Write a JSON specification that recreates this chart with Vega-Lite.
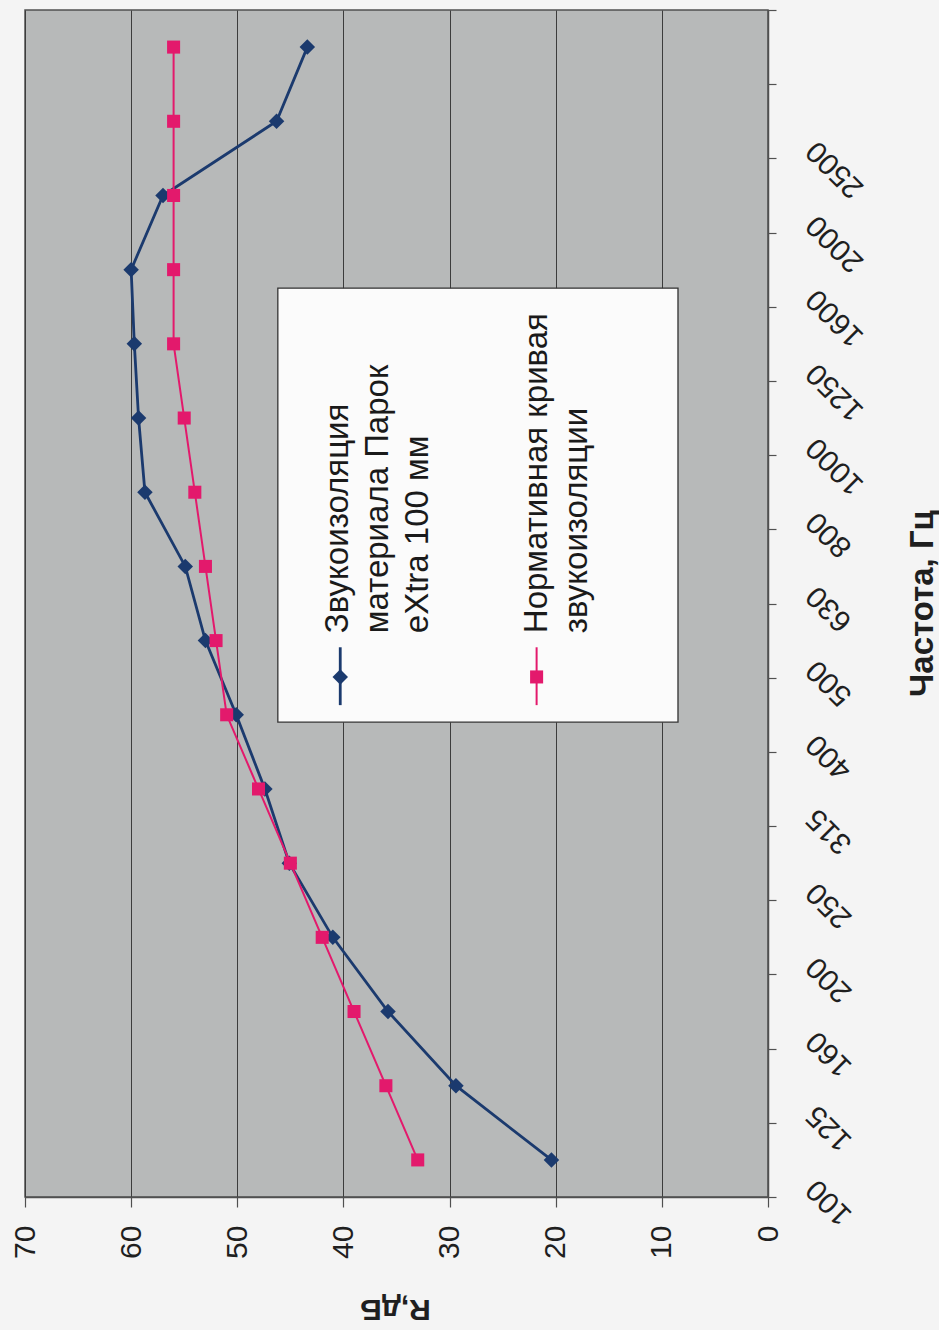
{
  "$schema": "https://vega.github.io/schema/vega-lite/v6.json",
  "width": 743,
  "height": 1187,
  "autosize": {"type": "none"},
  "padding": {"left": 25, "top": 10, "right": 171, "bottom": 133},
  "background": "#f4f4f4",
  "config": {
    "font": "Liberation Sans",
    "view": {"fill": "#b7b9b9", "stroke": "#505050", "strokeWidth": 1.5}
  },
  "datasets": {
    "rw": [
      {"freq": 100, "series": "measured", "R": 20.4},
      {"freq": 125, "series": "measured", "R": 29.4},
      {"freq": 160, "series": "measured", "R": 35.8},
      {"freq": 200, "series": "measured", "R": 41.0},
      {"freq": 250, "series": "measured", "R": 45.1},
      {"freq": 315, "series": "measured", "R": 47.4},
      {"freq": 400, "series": "measured", "R": 50.1},
      {"freq": 500, "series": "measured", "R": 53.0},
      {"freq": 630, "series": "measured", "R": 54.9},
      {"freq": 800, "series": "measured", "R": 58.7},
      {"freq": 1000, "series": "measured", "R": 59.3},
      {"freq": 1250, "series": "measured", "R": 59.7},
      {"freq": 1600, "series": "measured", "R": 60.0},
      {"freq": 2000, "series": "measured", "R": 57.0},
      {"freq": 2500, "series": "measured", "R": 46.3},
      {"freq": 3150, "series": "measured", "R": 43.4},
      {"freq": 100, "series": "norm", "R": 33},
      {"freq": 125, "series": "norm", "R": 36},
      {"freq": 160, "series": "norm", "R": 39},
      {"freq": 200, "series": "norm", "R": 42},
      {"freq": 250, "series": "norm", "R": 45},
      {"freq": 315, "series": "norm", "R": 48},
      {"freq": 400, "series": "norm", "R": 51},
      {"freq": 500, "series": "norm", "R": 52},
      {"freq": 630, "series": "norm", "R": 53},
      {"freq": 800, "series": "norm", "R": 54},
      {"freq": 1000, "series": "norm", "R": 55},
      {"freq": 1250, "series": "norm", "R": 56},
      {"freq": 1600, "series": "norm", "R": 56},
      {"freq": 2000, "series": "norm", "R": 56},
      {"freq": 2500, "series": "norm", "R": 56},
      {"freq": 3150, "series": "norm", "R": 56}
    ],
    "legendItems": [
      {"series": "measured", "label": "Звукоизоляция\nматериала Парок\neXtra 100 мм"},
      {"series": "norm", "label": "Нормативная кривая\nзвукоизоляции"}
    ]
  },
  "layer": [
    {
      "data": {"name": "rw"},
      "encoding": {
        "x": {
          "field": "R",
          "type": "quantitative",
          "scale": {"domain": [0, 70], "reverse": true, "nice": false},
          "axis": {
            "orient": "bottom",
            "values": [0, 10, 20, 30, 40, 50, 60, 70],
            "tickSize": 10,
            "tickColor": "#505050",
            "tickWidth": 1.2,
            "domainColor": "#505050",
            "domainWidth": 1.5,
            "labelAngle": 270,
            "labelAlign": "right",
            "labelBaseline": "middle",
            "labelPadding": 18,
            "labelFontSize": 30,
            "labelColor": "#1f1f1f",
            "labelFlush": false,
            "labelOverlap": false,
            "grid": true,
            "gridColor": "#3c3c3c",
            "gridWidth": 1,
            "gridOpacity": 1,
            "title": "R,дБ",
            "titleAngle": 180,
            "titleFontSize": 30,
            "titleFontWeight": "bold",
            "titleColor": "#1f1f1f",
            "titleX": 370,
            "titleY": 111,
            "titleAlign": "center",
            "titleBaseline": "middle"
          }
        },
        "y": {
          "field": "freq",
          "type": "ordinal",
          "sort": "descending",
          "scale": {"type": "band", "paddingInner": 0, "paddingOuter": 0},
          "axis": {
            "orient": "right",
            "tickBand": "extent",
            "tickSize": 8,
            "tickColor": "#505050",
            "tickWidth": 1.2,
            "domainColor": "#505050",
            "domainWidth": 1.5,
            "labelAngle": 225,
            "labelAlign": "right",
            "labelBaseline": "middle",
            "labelPadding": 35,
            "labelOffset": 24,
            "labelFontSize": 30,
            "labelColor": "#1f1f1f",
            "labelOverlap": false,
            "labelBound": false,
            "labelFlush": false,
            "labelExpr": "datum.value == 3150 ? '' : datum.label",
            "grid": false,
            "title": "Частота, Гц",
            "titleAngle": 270,
            "titleFontSize": 33,
            "titleFontWeight": "bold",
            "titleColor": "#1f1f1f",
            "titleX": 154,
            "titleY": 593,
            "titleAlign": "center",
            "titleBaseline": "middle"
          }
        },
        "order": {"field": "freq", "type": "quantitative"}
      },
      "layer": [
        {
          "transform": [{"filter": "datum.series == 'measured'"}],
          "mark": {"type": "line", "color": "#1b3a6e", "strokeWidth": 2.8}
        },
        {
          "transform": [{"filter": "datum.series == 'measured'"}],
          "mark": {"type": "point", "shape": "diamond", "filled": true, "opacity": 1, "size": 240, "color": "#1b3a6e"}
        },
        {
          "transform": [{"filter": "datum.series == 'norm'"}],
          "mark": {"type": "line", "color": "#e3196c", "strokeWidth": 2}
        },
        {
          "transform": [{"filter": "datum.series == 'norm'"}],
          "mark": {"type": "point", "shape": "square", "filled": true, "opacity": 1, "size": 170, "color": "#e3196c"}
        }
      ]
    },
    {
      "data": {"name": "legendItems"},
      "layer": [
        {
          "data": {"values": [{}]},
          "mark": {"type": "rect", "fill": "#fbfbfb", "stroke": "#333333", "strokeWidth": 1.3},
          "encoding": {
            "x": {"datum": 46.18, "type": "quantitative", "scale": {"domain": [0, 70], "reverse": true, "nice": false}, "axis": null},
            "x2": {"datum": 8.48},
            "y": {"datum": 6.4, "type": "quantitative", "scale": {"domain": [0, 16], "nice": false, "zero": false}, "axis": null},
            "y2": {"datum": 12.25}
          }
        },
        {
          "transform": [{"filter": "datum.series == 'measured'"}],
          "mark": {"type": "rule", "color": "#1b3a6e", "strokeWidth": 2.8},
          "encoding": {
            "x": {"datum": 40.3, "type": "quantitative"},
            "y": {"datum": 6.63, "type": "quantitative"},
            "y2": {"datum": 7.41}
          }
        },
        {
          "transform": [{"filter": "datum.series == 'measured'"}],
          "mark": {"type": "point", "shape": "diamond", "filled": true, "opacity": 1, "size": 240, "color": "#1b3a6e"},
          "encoding": {
            "x": {"datum": 40.3, "type": "quantitative"},
            "y": {"datum": 7.01, "type": "quantitative"}
          }
        },
        {
          "transform": [{"filter": "datum.series == 'measured'"}],
          "mark": {"type": "text", "angle": 270, "align": "left", "baseline": "alphabetic", "fontSize": 33, "lineHeight": 40, "lineBreak": "\n", "color": "#1a1a1a"},
          "encoding": {
            "x": {"datum": 39.58, "type": "quantitative"},
            "y": {"datum": 7.6, "type": "quantitative"},
            "text": {"field": "label", "type": "nominal"}
          }
        },
        {
          "transform": [{"filter": "datum.series == 'norm'"}],
          "mark": {"type": "rule", "color": "#e3196c", "strokeWidth": 2},
          "encoding": {
            "x": {"datum": 21.8, "type": "quantitative"},
            "y": {"datum": 6.63, "type": "quantitative"},
            "y2": {"datum": 7.41}
          }
        },
        {
          "transform": [{"filter": "datum.series == 'norm'"}],
          "mark": {"type": "point", "shape": "square", "filled": true, "opacity": 1, "size": 170, "color": "#e3196c"},
          "encoding": {
            "x": {"datum": 21.8, "type": "quantitative"},
            "y": {"datum": 7.01, "type": "quantitative"}
          }
        },
        {
          "transform": [{"filter": "datum.series == 'norm'"}],
          "mark": {"type": "text", "angle": 270, "align": "left", "baseline": "alphabetic", "fontSize": 33, "lineHeight": 40, "lineBreak": "\n", "color": "#1a1a1a"},
          "encoding": {
            "x": {"datum": 20.83, "type": "quantitative"},
            "y": {"datum": 7.6, "type": "quantitative"},
            "text": {"field": "label", "type": "nominal"}
          }
        }
      ]
    }
  ],
  "resolve": {"scale": {"x": "independent", "y": "independent"}}
}
